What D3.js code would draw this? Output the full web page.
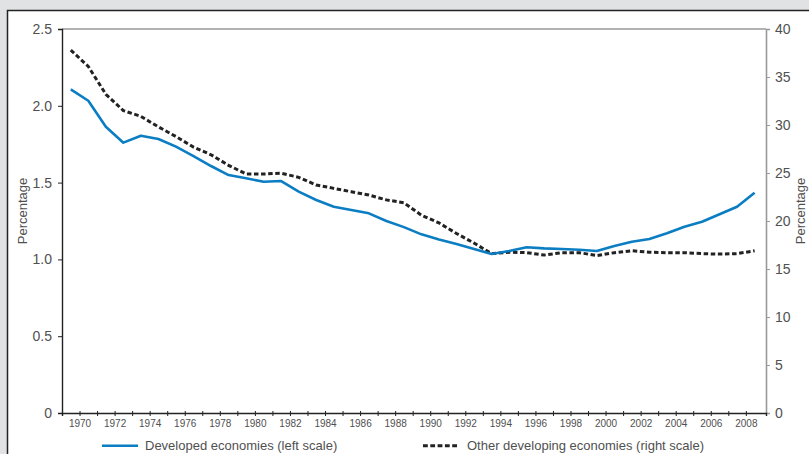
<!DOCTYPE html>
<html>
<head>
<meta charset="utf-8">
<script src="https://cdn.jsdelivr.net/npm/d3@7"></script>
<style>
  html, body { margin: 0; padding: 0; background: #e1e2e4; }
  svg { display: block; font-family: "Liberation Sans", Arial, sans-serif; }
</style>
</head>
<body>
<svg id="chart" width="809" height="454"></svg>
<script>
// ---- data ----
const years = d3.range(1969, 2009); // 40 annual observations, plotted mid-year
const developed = [
  2.107, 2.033, 1.864, 1.760, 1.805, 1.784, 1.734, 1.673, 1.608, 1.549,
  1.528, 1.506, 1.510, 1.441, 1.387, 1.343, 1.322, 1.300, 1.250, 1.210,
  1.163, 1.130, 1.100, 1.068, 1.035, 1.055, 1.079, 1.072, 1.068, 1.063,
  1.055, 1.087, 1.115, 1.133, 1.170, 1.213, 1.245, 1.294, 1.343, 1.434
];
const otherDeveloping = [
  37.8, 36.1, 33.2, 31.5, 30.9, 29.8, 28.8, 27.7, 26.9, 25.8,
  24.9, 24.9, 24.97, 24.55, 23.75, 23.4, 23.05, 22.7, 22.2, 21.9,
  20.6, 19.8, 18.7, 17.7, 16.6, 16.75, 16.7, 16.45, 16.7, 16.7,
  16.4, 16.7, 16.9, 16.75, 16.7, 16.7, 16.6, 16.55, 16.6, 16.9
];
const xTickYears = d3.range(1970, 2009);
const xLabelYears = d3.range(1970, 2009, 2);
const leftTicks = [0, 0.5, 1.0, 1.5, 2.0, 2.5];
const rightTicks = [0, 5, 10, 15, 20, 25, 30, 35, 40];
const legendLabels = ["Developed economies (left scale)", "Other developing economies (right scale)"];
const axisTitle = "Percentage";

// ---- layout ----
const svg = d3.select("#chart");
const L = 62, R = 766, T = 29, B = 413;
const textColor = "#505050";
const blue = "#0b7dc3";

// panel
svg.append("rect").attr("x", 7.5).attr("y", 10.5).attr("width", 820).attr("height", 460)
  .attr("fill", "#fff").attr("stroke", "#222").attr("stroke-width", 1.5);

const x = d3.scaleLinear().domain([1969, 2009.15]).range([L, R]);
const yL = d3.scaleLinear().domain([0, 2.5]).range([B, T]);
const yR = d3.scaleLinear().domain([0, 40]).range([B, T]);

// top frame line
svg.append("line").attr("x1", L).attr("x2", R).attr("y1", T).attr("y2", T)
  .attr("stroke", "#999").attr("stroke-width", 1.6);

// right axis (gray)
const gR = svg.append("g").attr("transform", `translate(${R},0)`)
  .call(d3.axisRight(yR).tickValues(rightTicks).tickSize(4).tickPadding(5).tickFormat(d3.format("d")));
gR.select(".domain").attr("stroke", "#999").attr("stroke-width", 1.6);
gR.selectAll(".tick line").attr("stroke", "#999").attr("stroke-width", 1);
gR.selectAll(".tick text").attr("fill", textColor).attr("font-size", 14);

// left axis
const gL = svg.append("g").attr("transform", `translate(${L},0)`)
  .call(d3.axisLeft(yL).tickValues(leftTicks).tickSize(4).tickPadding(6)
    .tickFormat(d => d === 0 ? "0" : d3.format(".1f")(d)));
gL.select(".domain").attr("stroke", "#222").attr("stroke-width", 1.4);
gL.selectAll(".tick line").attr("stroke", "#222");
gL.selectAll(".tick text").attr("fill", textColor).attr("font-size", 14);

// bottom axis
const gB = svg.append("g").attr("transform", `translate(0,${B})`)
  .call(d3.axisBottom(x).tickValues(xTickYears).tickSize(3).tickPadding(4)
    .tickFormat(d => xLabelYears.includes(d) ? String(d) : ""));
gB.select(".domain").attr("stroke", "#222").attr("stroke-width", 1.4);
gB.selectAll(".tick line").attr("stroke", "#222").attr("y1", -2).attr("y2", 3);
gB.selectAll(".tick text").attr("fill", textColor).attr("font-size", 10);

// axis titles
svg.append("text").attr("transform", `translate(27,211) rotate(-90)`)
  .attr("text-anchor", "middle").attr("font-size", 13).attr("fill", textColor).text(axisTitle);
svg.append("text").attr("transform", `translate(805,211) rotate(-90)`)
  .attr("text-anchor", "middle").attr("font-size", 13).attr("fill", textColor).text(axisTitle);

// lines
const devData = years.map((y, i) => ({ year: y, v: developed[i] }));
const othData = years.map((y, i) => ({ year: y, v: otherDeveloping[i] }));

svg.append("path").datum(othData)
  .attr("fill", "none").attr("stroke", "#222").attr("stroke-width", 3)
  .attr("stroke-dasharray", "4.5,2.6")
  .attr("d", d3.line().x(d => x(d.year + 0.5)).y(d => yR(d.v)));

svg.append("path").datum(devData)
  .attr("fill", "none").attr("stroke", blue).attr("stroke-width", 2.6)
  .attr("stroke-linejoin", "round")
  .attr("d", d3.line().x(d => x(d.year + 0.5)).y(d => yL(d.v)));

// legend
const ly = 445.7;
svg.append("line").attr("x1", 102).attr("x2", 138).attr("y1", ly).attr("y2", ly)
  .attr("stroke", blue).attr("stroke-width", 2.6);
svg.append("text").attr("x", 145).attr("y", 449.5).attr("font-size", 13)
  .attr("fill", textColor).text(legendLabels[0]);
svg.append("line").attr("x1", 423).attr("x2", 458).attr("y1", ly).attr("y2", ly)
  .attr("stroke", "#222").attr("stroke-width", 3).attr("stroke-dasharray", "4.8,2.5");
svg.append("text").attr("x", 467).attr("y", 449.5).attr("font-size", 13)
  .attr("fill", textColor).text(legendLabels[1]);
</script>
</body>
</html>
